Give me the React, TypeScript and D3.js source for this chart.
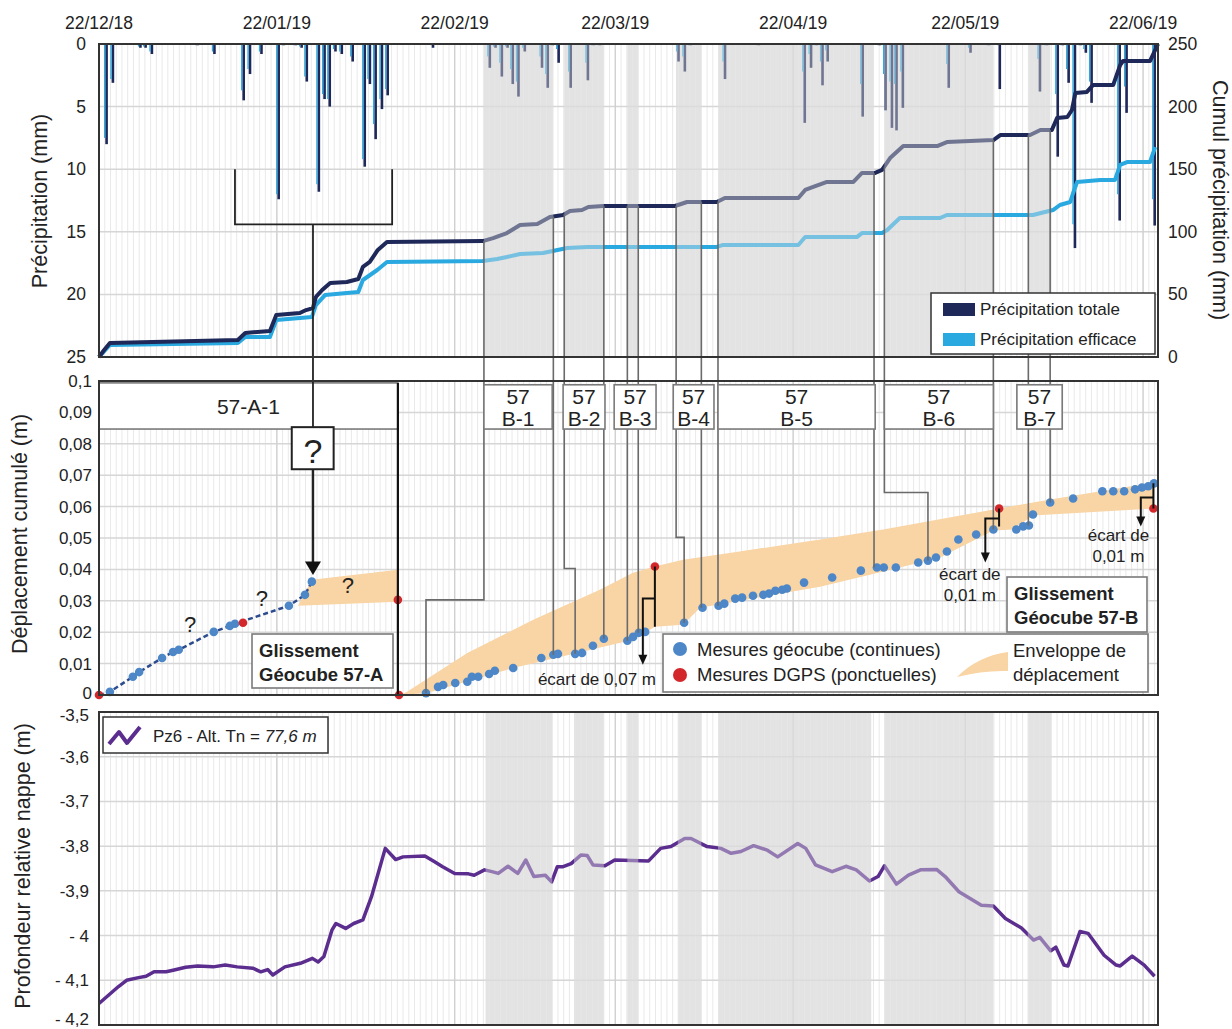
import { useEffect, useRef } from 'react';
import * as d3 from 'd3';

const W = 1232;
const H = 1029;

// all x values are days counted from 22/12/2018
const dateTicks = [0, 31, 62, 90, 121, 151, 182];
const dateLabels = ['22/12/18', '22/01/19', '22/02/19', '22/03/19', '22/04/19', '22/05/19', '22/06/19'];

// daily rain: [day, total (mm), efficace (mm)]
const rain: [number, number, number][] = [
  [1.2, 8.0, 7.5], [2.3, 3.1, 2.8], [7.1, 0.3, 0.2], [8.0, 0.3, 0.2], [9.1, 0.8, 0.6], [17.1, 0.1, 0.1],
  [20.0, 0.8, 0.6], [25.1, 4.5, 3.7], [26.2, 2.4, 2.0], [28.2, 0.8, 0.6], [31.2, 12.4, 12.0], [32.1, 0.1, 0.1],
  [34.2, 0.1, 0.1], [35.2, 0.3, 0.2], [36.1, 3.0, 2.6], [38.2, 11.8, 11.2], [39.2, 4.4, 4.0], [40.1, 5.0, 4.4],
  [41.1, 0.6, 0.4], [42.2, 0.8, 0.6], [44.1, 1.4, 1.0], [46.2, 9.8, 9.2], [47.1, 3.2, 2.8], [48.1, 7.6, 6.4],
  [49.2, 5.2, 4.4], [50.2, 4.1, 3.6], [58.1, 0.3, 0.1], [68.0, 1.9, 1.0], [69.0, 0.3, 0.2], [70.1, 2.6, 1.5],
  [71.1, 0.3, 0.2], [72.0, 3.2, 2.0], [73.0, 4.2, 3.0], [74.1, 0.6, 0.3], [77.1, 1.9, 1.0], [78.1, 3.5, 2.4],
  [79.0, 0.1, 0.1], [80.0, 1.5, 0.4], [82.1, 3.5, 2.2], [85.1, 2.9, 1.5], [86.1, 0.1, 0.1], [87.2, 0.1, 0.1],
  [100.9, 1.4, 0.6], [102.0, 2.2, 1.0], [103.0, 0.1, 0.1], [109.0, 2.8, 1.4], [114.9, 0.1, 0.1], [122.9, 6.3, 2.2],
  [124.0, 1.9, 0.8], [125.0, 0.1, 0.1], [126.0, 3.3, 1.4], [126.9, 1.4, 0.5], [133.0, 5.8, 3.2], [136.0, 0.1, 0.1],
  [137.0, 5.3, 2.4], [138.1, 6.7, 3.0], [138.9, 6.9, 3.2], [140.0, 5.1, 2.2], [148.0, 3.5, 1.6], [151.8, 0.7, 0.3],
  [155.0, 0.1, 0.1], [156.9, 3.6, 0.1], [163.9, 3.8, 1.2], [165.1, 0.1, 0.1], [167.0, 9.0, 4.0], [167.9, 0.1, 0.1],
  [168.9, 3.1, 2.0], [170.0, 16.3, 14.4], [171.0, 0.1, 0.1], [171.9, 0.7, 0.4], [172.9, 4.7, 3.0], [177.8, 14.1, 12.0],
  [179.0, 5.5, 3.4], [183.9, 14.5, 12.4],
];

// cumulative rain (mm)
const cumTotal: [number, number][] = [
  [0, 0], [0.9, 5.6], [1.9, 11.2], [24.2, 13.6], [25.5, 19.2], [29.8, 20.8], [30.9, 33.5], [35.0, 35.1],
  [36.1, 37.5], [37.3, 39.1], [37.8, 47.9], [38.9, 53.5], [40.3, 59.1], [43.2, 59.9], [45.2, 62.3], [46.0, 71.9],
  [47.2, 75.9], [48.6, 85.5], [50.2, 91.9], [66.9, 92.6], [68.7, 95.0], [71.1, 99.0], [73.4, 105.4], [76.4, 106.2],
  [78.6, 111.8], [80.9, 113.4], [82.1, 116.6], [84.2, 117.4], [85.3, 119.8], [87.9, 120.6], [100.4, 120.6],
  [102.5, 123.8], [107.7, 123.8], [109.1, 127.0], [121.9, 127.0], [123.1, 133.4], [124.5, 135.8], [126.9, 139.8],
  [131.5, 139.8], [133.0, 147.0], [135.3, 147.0], [136.5, 149.4], [137.9, 158.9], [140.2, 168.5], [146.1, 168.5],
  [147.8, 171.7], [155.9, 173.3], [157.1, 177.3], [162.3, 177.3], [164.1, 181.3], [166.1, 181.3], [167.0, 190.9],
  [168.8, 191.7], [169.6, 197.3], [170.2, 210.9], [172.2, 211.7], [173.3, 217.3], [176.8, 217.3], [178.0, 233.2],
  [178.5, 236.4], [183.2, 236.4], [184.6, 250],
];
const cumEff: [number, number][] = [
  [0, 0], [1.9, 9.6], [24.2, 11.2], [25.5, 16.0], [29.8, 16.0], [30.9, 29.6], [37.1, 31.9], [37.8, 41.5],
  [39.4, 49.5], [43.2, 51.1], [45.2, 51.9], [46.0, 61.5], [48.5, 69.5], [50.2, 75.9], [66.9, 76.7], [69.4, 78.3],
  [71.1, 79.9], [73.4, 82.3], [77.4, 83.1], [79.1, 84.7], [81.6, 87.1], [85.1, 87.9], [107.7, 87.9], [108.8, 89.5],
  [121.9, 89.5], [123.1, 95.8], [132.1, 95.8], [133.0, 99.0], [136.5, 99.0], [137.4, 101.4], [139.6, 111.0],
  [146.6, 111.0], [147.8, 113.4], [162.8, 113.4], [166.3, 117.4], [167.5, 121.4], [169.3, 123.8], [169.8, 131.0],
  [170.5, 139.8], [174.5, 141.4], [177.1, 141.4], [178.0, 153.4], [179.2, 155.7], [183.2, 155.7], [184.1, 167.7],
];

// grey periods
const shadeRain: [number, number][] = [
  [67.1, 79.2], [81.1, 88.0], [92.1, 94.0], [100.6, 105.0], [107.9, 135.1], [136.9, 155.9], [162.0, 165.8],
];
const shadeNappe: [number, number][] = [
  [67.4, 79.0], [82.8, 88.0], [92.1, 94.0], [100.9, 105.0], [107.9, 134.6], [136.9, 155.9], [161.9, 166.0],
];

// displacement (m)
const geoA: [number, number][] = [
  [1.9, 0.001], [5.9, 0.0058], [7.0, 0.0073], [11.0, 0.0118], [12.9, 0.0137], [13.9, 0.0144], [20.0, 0.0201],
  [22.8, 0.022], [23.7, 0.0227], [33.1, 0.0284], [35.9, 0.0319], [37.1, 0.0361],
];
const geoB: [number, number][] = [
  [57.0, 0.0006], [59.1, 0.0026], [60.0, 0.0032], [62.1, 0.0038], [64.2, 0.0042], [65.0, 0.0058], [66.1, 0.0058],
  [68.0, 0.0067], [69.0, 0.0077], [72.2, 0.0086], [77.1, 0.0118], [79.2, 0.0128], [80.0, 0.0131], [83.0, 0.0131],
  [84.2, 0.0134], [86.1, 0.0157], [88.0, 0.0179], [92.1, 0.0173], [93.1, 0.0185], [94.1, 0.0198], [95.2, 0.0201],
  [102.0, 0.023], [105.2, 0.0278], [108.0, 0.0284], [109.0, 0.0291], [110.9, 0.0307], [112.1, 0.031], [114.0, 0.0316],
  [115.8, 0.0319], [116.8, 0.0323], [117.9, 0.0332], [119.1, 0.0335], [119.9, 0.0339], [122.9, 0.0358],
  [127.8, 0.0374], [132.8, 0.0396], [135.6, 0.0406], [136.8, 0.0406], [138.9, 0.0406], [142.8, 0.0422],
  [144.5, 0.0428], [145.9, 0.0438], [147.8, 0.0457], [149.8, 0.0495], [152.9, 0.0511], [155.9, 0.0527],
  [159.9, 0.0527], [161.1, 0.0537], [162.1, 0.054], [162.8, 0.0575], [165.8, 0.0613], [169.8, 0.0626],
  [174.9, 0.0649], [176.8, 0.0649], [178.7, 0.0649], [180.6, 0.0655], [181.8, 0.0661], [182.9, 0.0665],
  [183.9, 0.0674],
];
const dgps: [number, number][] = [
  [0, 0], [25.1, 0.023], [52.1, 0.0303], [52.3, 0], [96.9, 0.0409], [156.9, 0.0594], [183.8, 0.0594],
];
const envA: [number, number][] = [[34.7, 0.0284], [37.1, 0.0367], [52.1, 0.0399], [52.1, 0.0297]];
const envBTop: [number, number][] = [
  [52.5, 0], [53.7, 0.001], [64.2, 0.0134], [75.7, 0.024], [87.3, 0.0335], [93.1, 0.0389], [96.9, 0.0409],
  [101.8, 0.0431], [110.5, 0.0454], [125.7, 0.0495], [136.7, 0.0527], [156.9, 0.0594], [165.8, 0.0623], [183.9, 0.0677],
];
const envBBottom: [number, number][] = [
  [52.5, 0], [57.2, 0.0006], [72.2, 0.0086], [93.1, 0.0176], [96.9, 0.0217], [101.8, 0.0224], [104.8, 0.0278],
  [125.7, 0.0345], [139.6, 0.0406], [146.6, 0.0438], [155.9, 0.0524], [159.3, 0.0527], [162.8, 0.0572], [183.9, 0.0594],
];

// labelled sub-periods of slide 57-B
const periodNames = ['B-1', 'B-2', 'B-3', 'B-4', 'B-5', 'B-6', 'B-7'];
const periodBoxes: [number, number][] = [
  [67.1, 79.0], [80.9, 88.2], [89.8, 97.1], [100.1, 107.2], [107.9, 135.3], [136.9, 155.9], [160.0, 167.9],
];

// links from period bounds (rain curve) down to geocube points
const links: { day: number; path: [number, number][] }[] = [
  { day: 67.1, path: [[67.1, 0.0303], [57.0, 0.0303], [57.0, 0.0006]] },
  { day: 79.2, path: [[79.2, 0.0128]] },
  { day: 81.1, path: [[81.1, 0.0403], [83.0, 0.0403], [83.0, 0.0131]] },
  { day: 88.0, path: [[88.0, 0.0179]] },
  { day: 92.1, path: [[92.1, 0.0173]] },
  { day: 94.0, path: [[94.0, 0.0198]] },
  { day: 100.6, path: [[100.6, 0.0502], [102.0, 0.0502], [102.0, 0.023]] },
  { day: 105.0, path: [[105.0, 0.0278]] },
  { day: 107.9, path: [[107.9, 0.0284]] },
  { day: 135.1, path: [[135.1, 0.0406]] },
  { day: 136.9, path: [[136.9, 0.0645], [144.5, 0.0645], [144.5, 0.0428]] },
  { day: 155.9, path: [[155.9, 0.0527]] },
  { day: 162.0, path: [[162.0, 0.054]] },
  { day: 165.8, path: [[165.8, 0.0613]] },
];

// groundwater Pz6 (m)
const nappe: [number, number][] = [
  [0, -4.152], [3.4, -4.114], [4.8, -4.1], [6.9, -4.094], [8.2, -4.091], [9.6, -4.081], [11.7, -4.081], [13.1, -4.077],
  [15.1, -4.071], [17.2, -4.068], [19.9, -4.07], [22.0, -4.066], [24.1, -4.07], [26.8, -4.073], [28.2, -4.081],
  [29.4, -4.076], [30.3, -4.088], [32.4, -4.07], [35.1, -4.062], [37.2, -4.051], [38.2, -4.059], [39.2, -4.047],
  [40.6, -3.988], [41.3, -3.973], [43.0, -3.984], [44.4, -3.973], [46.0, -3.965], [47.5, -3.913], [49.9, -3.805],
  [51.7, -3.83], [53.0, -3.824], [56.8, -3.822], [58.5, -3.835], [59.9, -3.846], [62.0, -3.861], [64.4, -3.862],
  [65.4, -3.865], [67.2, -3.853], [68.5, -3.857], [69.6, -3.861], [71.3, -3.845], [73.0, -3.861], [74.4, -3.831],
  [75.8, -3.868], [77.8, -3.865], [78.9, -3.88], [79.9, -3.846], [80.9, -3.846], [82.3, -3.839], [84.0, -3.82],
  [85.1, -3.821], [86.1, -3.842], [88.2, -3.844], [89.9, -3.831], [95.8, -3.833], [97.9, -3.805], [99.7, -3.801],
  [102.1, -3.783], [103.2, -3.783], [106.0, -3.801], [108.4, -3.805], [110.2, -3.816], [111.9, -3.812],
  [114.1, -3.799], [116.5, -3.809], [118.3, -3.824], [121.8, -3.794], [123.2, -3.805], [124.9, -3.842],
  [127.8, -3.857], [130.2, -3.845], [132.0, -3.853], [134.3, -3.878], [135.8, -3.868], [136.9, -3.844],
  [139.0, -3.885], [141.1, -3.865], [143.2, -3.853], [146.0, -3.852], [147.5, -3.868], [149.9, -3.902],
  [153.8, -3.932], [155.9, -3.934], [158.0, -3.962], [160.8, -3.983], [162.9, -4.01], [164.0, -4.004],
  [165.9, -4.034], [166.8, -4.026], [168.2, -4.066], [168.9, -4.068], [171.0, -3.991], [172.4, -3.995],
  [175.2, -4.044], [177.3, -4.066], [178.0, -4.068], [180.1, -4.046], [182.2, -4.066], [184.0, -4.091],
];

const rainTicks = [0, 5, 10, 15, 20, 25];
const cumTicks = [0, 50, 100, 150, 200, 250];
const dispTicks = [0, 0.01, 0.02, 0.03, 0.04, 0.05, 0.06, 0.07, 0.08, 0.09, 0.1];
const dispLabels = ['0', '0,01', '0,02', '0,03', '0,04', '0,05', '0,06', '0,07', '0,08', '0,09', '0,1'];
const nappeTicks = [-3.5, -3.6, -3.7, -3.8, -3.9, -4, -4.1, -4.2];
const nappeLabels = ['-3,5', '-3,6', '-3,7', '-3,8', '-3,9', '- 4', '- 4,1', '- 4,2'];

const NAVY = '#1e2859';
const CYAN = '#29a9e0';
const PURPLE = '#5b2d8e';
const BLUE_DOT = '#4d87c7';
const RED_DOT = '#d3282b';
const ORANGE = '#f9d4a4';
const SHADE = '#e3e3e3';
const FONT = 'Liberation Sans, Arial, sans-serif';

export default function App() {
  const svgRef = useRef<SVGSVGElement>(null);

  useEffect(() => {
    if (!svgRef.current) return;
    const svg = d3.select(svgRef.current);
    svg.selectAll('*').remove();

    const x = d3.scaleLinear().domain([0, 184.6]).range([99, 1158]);
    const yRain = d3.scaleLinear().domain([0, 25]).range([44, 357]);
    const yCum = d3.scaleLinear().domain([0, 250]).range([357, 44]);
    const yDep = d3.scaleLinear().domain([0, 0.1]).range([695, 381]);
    const yNap = d3.scaleLinear().domain([-4.2, -3.5]).range([1025, 712]);
    const L = x.range()[0];
    const R = x.range()[1];

    svg.append('rect').attr('width', W).attr('height', H).attr('fill', '#fff');

    const days = d3.range(1, 185);

    // background grid for one panel
    const drawGrid = (top: number, bottom: number, hLines: number[], shades: [number, number][] | null) => {
      const g = svg.append('g');
      if (shades) {
        g.selectAll('.sh').data(shades).enter().append('rect')
          .attr('x', d => x(d[0])).attr('width', d => x(d[1]) - x(d[0]))
          .attr('y', top).attr('height', bottom - top).attr('fill', SHADE);
      }
      g.selectAll('.day').data(days).enter().append('line')
        .attr('x1', d => x(d)).attr('x2', d => x(d)).attr('y1', top).attr('y2', bottom)
        .attr('stroke', '#e9e9e9').attr('stroke-width', 1);
      g.selectAll('.hl').data(hLines).enter().append('line')
        .attr('x1', L).attr('x2', R).attr('y1', d => d).attr('y2', d => d)
        .attr('stroke', '#d6d6d6').attr('stroke-width', 1.5);
      g.selectAll('.ml').data(dateTicks.slice(1)).enter().append('line')
        .attr('x1', d => x(d)).attr('x2', d => x(d)).attr('y1', top).attr('y2', bottom)
        .attr('stroke', '#cfcfcf').attr('stroke-width', 1.3);
      return g;
    };
    const overlay = (top: number, bottom: number, shades: [number, number][]) => {
      svg.append('g').selectAll('rect').data(shades).enter().append('rect')
        .attr('x', d => x(d[0])).attr('width', d => x(d[1]) - x(d[0]))
        .attr('y', top).attr('height', bottom - top).attr('fill', SHADE).attr('opacity', 0.42);
    };
    const frame = (top: number, bottom: number) => {
      svg.append('rect').attr('x', L).attr('y', top).attr('width', R - L).attr('height', bottom - top)
        .attr('fill', 'none').attr('stroke', '#333').attr('stroke-width', 2);
    };
    const text = (g: any, tx: number, ty: number, s: string, size: number, anchor = 'start', weight = 'normal') =>
      g.append('text').attr('x', tx).attr('y', ty).attr('font-family', FONT).attr('font-size', size)
        .attr('text-anchor', anchor).attr('font-weight', weight).attr('fill', '#222').text(s);
    const title = (tx: number, ty: number, angle: number, s: string) =>
      svg.append('text').attr('transform', `translate(${tx},${ty}) rotate(${angle})`).attr('text-anchor', 'middle')
        .attr('font-family', FONT).attr('font-size', 21.5).attr('fill', '#222').text(s);

    // dates on top
    dateTicks.forEach((d, i) => text(svg, x(d), 29, dateLabels[i], 17.5, 'middle'));

    // ---------- panel 1 : rain ----------
    drawGrid(44, 357, [5, 10, 15, 20].map(v => yRain(v)), shadeRain);
    const gRain = svg.append('g');
    gRain.selectAll('.tot').data(rain).enter().append('rect')
      .attr('x', d => x(d[0]) - 0.6).attr('width', 2.6)
      .attr('y', yRain(0)).attr('height', d => yRain(d[1]) - yRain(0)).attr('fill', NAVY);
    gRain.selectAll('.eff').data(rain).enter().append('rect')
      .attr('x', d => x(d[0]) - 1.9).attr('width', 1.3)
      .attr('y', yRain(0)).attr('height', d => yRain(d[2]) - yRain(0)).attr('fill', CYAN);

    const cumLine = d3.line<[number, number]>().x(d => x(d[0])).y(d => yCum(d[1]));
    gRain.append('path').attr('d', cumLine(cumEff)).attr('fill', 'none').attr('stroke', CYAN)
      .attr('stroke-width', 4).attr('stroke-linejoin', 'round');
    gRain.append('path').attr('d', cumLine(cumTotal)).attr('fill', 'none').attr('stroke', NAVY)
      .attr('stroke-width', 4).attr('stroke-linejoin', 'round');
    overlay(44, 357, shadeRain);

    rainTicks.forEach(v => text(svg, 86, yRain(v) + 6, String(v), 17.5, 'end'));
    cumTicks.forEach(v => text(svg, 1168, yCum(v) + 6, String(v), 17.5, 'start'));

    title(47, 201, -90, 'Précipitation (mm)');
    title(1213, 200, 90, 'Cumul précipitation (mm)');

    // ---------- panel 2 : displacement ----------
    drawGrid(381, 695, dispTicks.slice(1, -1).map(v => yDep(v)), null);
    const gDep = svg.append('g');
    const ptLine = d3.line<[number, number]>().x(d => x(d[0])).y(d => yDep(d[1]));
    gDep.append('path').attr('d', ptLine(envA) + 'Z').attr('fill', ORANGE);
    gDep.append('path').attr('d', ptLine([...envBTop, ...envBBottom.slice().reverse()]) + 'Z').attr('fill', ORANGE);
    gDep.append('path').attr('d', ptLine([[0, 0], ...geoA])).attr('fill', 'none')
      .attr('stroke', '#2c4c8e').attr('stroke-width', 2.5).attr('stroke-dasharray', '5,3');

    // connectors from the rain curve
    const bis = d3.bisector((p: [number, number]) => p[0]).left;
    const cumAt = (d: number) => {
      const i = Math.max(1, Math.min(cumTotal.length - 1, bis(cumTotal, d)));
      const a = cumTotal[i - 1];
      const b = cumTotal[i];
      return a[1] + ((b[1] - a[1]) * (d - a[0])) / (b[0] - a[0]);
    };
    const gLinks = svg.append('g');
    links.forEach(l => {
      const pts: [number, number][] = [[x(l.day), yCum(cumAt(l.day))], ...l.path.map(p => [x(p[0]), yDep(p[1])] as [number, number])];
      gLinks.append('path').attr('d', d3.line()(pts)).attr('fill', 'none')
        .attr('stroke', '#6a6a6a').attr('stroke-width', 1.6);
    });

    gDep.selectAll('.ga').data([...geoA, ...geoB]).enter().append('circle')
      .attr('cx', d => x(d[0])).attr('cy', d => yDep(d[1])).attr('r', 4.3).attr('fill', BLUE_DOT);
    gDep.selectAll('.gp').data(dgps).enter().append('circle')
      .attr('cx', d => x(d[0])).attr('cy', d => yDep(d[1])).attr('r', 4.3).attr('fill', RED_DOT);

    // label boxes
    const gBox = svg.append('g');
    gBox.append('rect').attr('x', x(0)).attr('y', yDep(0.0994)).attr('width', x(52.1) - x(0))
      .attr('height', yDep(0.0847) - yDep(0.0994)).attr('fill', '#fff').attr('stroke', '#7a7a7a').attr('stroke-width', 1.6);
    text(gBox, (x(0) + x(52.1)) / 2, 414, '57-A-1', 21, 'middle');
    periodBoxes.forEach((b, i) => {
      gBox.append('rect').attr('x', x(b[0])).attr('y', yDep(0.0988)).attr('width', x(b[1]) - x(b[0]))
        .attr('height', yDep(0.0847) - yDep(0.0988)).attr('fill', '#fff').attr('stroke', '#7a7a7a').attr('stroke-width', 1.6);
      const cx = (x(b[0]) + x(b[1])) / 2;
      text(gBox, cx, 404, '57', 21, 'middle');
      text(gBox, cx, 426, periodNames[i], 21, 'middle');
    });

    // separator between slides A and B
    svg.append('line').attr('x1', x(52.1)).attr('x2', x(52.1)).attr('y1', yDep(0.0994)).attr('y2', yDep(0))
      .attr('stroke', '#111').attr('stroke-width', 2.2);

    // bracket on the rain panel + question box
    const gq = svg.append('g').attr('stroke', '#222').attr('stroke-width', 1.8).attr('fill', 'none');
    gq.append('path').attr('d', `M${x(23.7)},${yRain(10)}V${yRain(14.4)}H${x(51.1)}V${yRain(10)}`);
    gq.append('line').attr('x1', x(37.3)).attr('x2', x(37.3)).attr('y1', yRain(14.4)).attr('y2', yDep(0.0853));
    gq.append('line').attr('x1', x(37.3)).attr('x2', x(37.3)).attr('y1', yDep(0.0719)).attr('y2', yDep(0.041))
      .attr('stroke-width', 2.4);
    svg.append('path')
      .attr('d', `M${x(37.3) - 8},${yDep(0.0425)}L${x(37.3) + 8},${yDep(0.0425)}L${x(37.3)},${yDep(0.0382)}Z`)
      .attr('fill', '#111');
    svg.append('rect').attr('x', x(33.6)).attr('y', yDep(0.0853)).attr('width', x(40.9) - x(33.6))
      .attr('height', yDep(0.0719) - yDep(0.0853)).attr('fill', '#fff').attr('stroke', '#222').attr('stroke-width', 2);
    text(svg, x(37.3), 463, '?', 34, 'middle');
    text(svg, x(15.9), yDep(0.0201), '?', 22, 'middle');
    text(svg, x(28.4), yDep(0.0284), '?', 22, 'middle');
    text(svg, x(43.4), yDep(0.0326), '?', 22, 'middle');

    // gap annotations
    const gaps = [
      { day: 96.9, top: 0.0409, bottom: 0.0217, mid: 0.0307, arrowDay: 94.8, tip: 0.0096 },
      { day: 156.9, top: 0.0594, bottom: 0.0537, mid: 0.0562, arrowDay: 154.5, tip: 0.0422 },
      { day: 183.8, top: 0.0674, bottom: 0.0594, mid: 0.0629, arrowDay: 181.6, tip: 0.0537 },
    ];
    gaps.forEach(g => {
      svg.append('path')
        .attr('d', `M${x(g.day)},${yDep(g.top)}V${yDep(g.bottom)}M${x(g.day)},${yDep(g.mid)}H${x(g.arrowDay)}V${yDep(g.tip) - 8}`)
        .attr('fill', 'none').attr('stroke', '#111').attr('stroke-width', 2);
      const tx = x(g.arrowDay);
      const ty = yDep(g.tip);
      svg.append('path').attr('d', `M${tx - 4.5},${ty - 10}L${tx + 4.5},${ty - 10}L${tx},${ty}Z`).attr('fill', '#111');
    });
    text(svg, x(86.8), yDep(0.0032), 'écart de 0,07 m', 17, 'middle');
    text(svg, x(151.8), yDep(0.0367), 'écart de', 17, 'middle');
    text(svg, x(151.8), yDep(0.03), '0,01 m', 17, 'middle');
    text(svg, x(177.7), yDep(0.0489), 'écart de', 17, 'middle');
    text(svg, x(177.7), yDep(0.0425), '0,01 m', 17, 'middle');

    // slide boxes
    const slideBox = (bx: number, by: number, bw: number, bh: number, label: string) => {
      svg.append('rect').attr('x', bx).attr('y', by).attr('width', bw).attr('height', bh)
        .attr('fill', '#fff').attr('stroke', '#7a7a7a').attr('stroke-width', 1.6);
      text(svg, bx + 7, by + 23, 'Glissement', 18.5, 'start', 'bold');
      text(svg, bx + 7, by + 47, label, 18.5, 'start', 'bold');
    };
    slideBox(252, 634, 141, 54, 'Géocube 57-A');
    slideBox(1007, 577, 140, 55, 'Géocube 57-B');

    // displacement legend
    const lg = svg.append('g');
    lg.append('rect').attr('x', 663).attr('y', 634).attr('width', 485).attr('height', 58)
      .attr('fill', '#fff').attr('stroke', '#7a7a7a').attr('stroke-width', 1.6);
    lg.append('circle').attr('cx', 680).attr('cy', 649).attr('r', 7).attr('fill', BLUE_DOT);
    lg.append('circle').attr('cx', 680).attr('cy', 675).attr('r', 7).attr('fill', RED_DOT);
    text(lg, 697, 656, 'Mesures géocube (continues)', 18.5);
    text(lg, 697, 681, 'Mesures DGPS (ponctuelles)', 18.5);
    lg.append('path').attr('d', 'M957,677 Q978,656 1008,652 L1008,671 Q984,670 957,677 Z').attr('fill', ORANGE);
    text(lg, 1013, 657, 'Enveloppe de', 18.5);
    text(lg, 1013, 681, 'déplacement', 18.5);

    dispTicks.forEach((v, i) => text(svg, 92, v === 0 ? 699 : yDep(v) + 6, dispLabels[i], 17, 'end'));
    title(27, 534, -90, 'Déplacement cumulé (m)');

    // ---------- panel 3 : groundwater ----------
    drawGrid(712, 1025, nappeTicks.slice(1, -1).map(v => yNap(v)), shadeNappe);
    const napLine = d3.line<[number, number]>().x(d => x(d[0])).y(d => yNap(d[1]));
    svg.append('path').attr('d', napLine(nappe)).attr('fill', 'none').attr('stroke', PURPLE)
      .attr('stroke-width', 3.5).attr('stroke-linejoin', 'round');
    overlay(712, 1025, shadeNappe);
    nappeTicks.forEach((v, i) => {
      const ty = Math.min(Math.max(yNap(v) + 6, 721), 1025);
      text(svg, 89, ty, nappeLabels[i], 17, 'end');
    });
    title(30, 866, -90, 'Profondeur relative nappe (m)');

    const nl = svg.append('g');
    nl.append('rect').attr('x', 103).attr('y', 717).attr('width', 225).attr('height', 36)
      .attr('fill', '#fff').attr('stroke', '#333').attr('stroke-width', 1.5);
    nl.append('path').attr('d', 'M109,744 L119,732 L127,743 L140,727').attr('fill', 'none')
      .attr('stroke', PURPLE).attr('stroke-width', 4).attr('stroke-linejoin', 'round');
    const nt = text(nl, 153, 742, 'Pz6 - Alt. Tn = ', 17);
    nt.append('tspan').attr('font-style', 'italic').text('77,6 m');

    // rain legend
    const rl = svg.append('g');
    rl.append('rect').attr('x', 931).attr('y', 293).attr('width', 224).attr('height', 61)
      .attr('fill', '#fff').attr('stroke', '#333').attr('stroke-width', 1.5);
    rl.append('rect').attr('x', 943).attr('y', 303).attr('width', 32).attr('height', 13).attr('fill', NAVY);
    rl.append('rect').attr('x', 943).attr('y', 333).attr('width', 32).attr('height', 13).attr('fill', CYAN);
    text(rl, 980, 315, 'Précipitation totale', 17);
    text(rl, 980, 345, 'Précipitation efficace', 17);

    frame(44, 357);
    frame(381, 695);
    frame(712, 1025);
  }, []);

  return (
    <svg
      ref={svgRef}
      width={W}
      height={H}
      style={{ display: 'block', position: 'absolute', left: 0, top: 0 }}
    />
  );
}
